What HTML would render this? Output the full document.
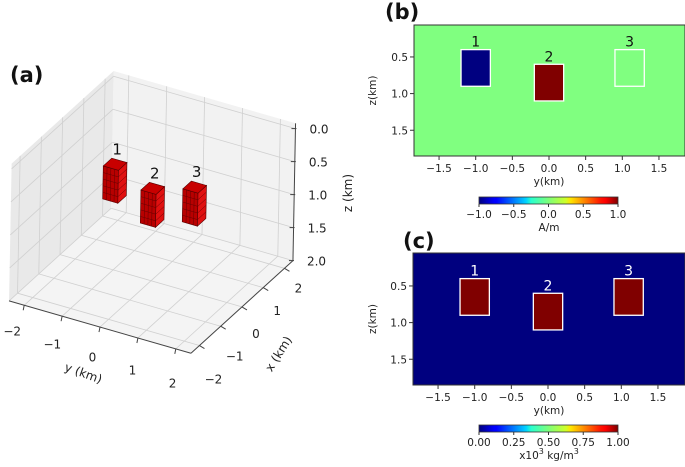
<!DOCTYPE html>
<html><head><meta charset="utf-8">
<style>
html,body{margin:0;padding:0;background:#fff;}
svg{display:block;font-family:"DejaVu Sans","Liberation Sans",sans-serif;}
</style></head>
<body>
<svg id="fig" width="685" height="467" viewBox="0 0 685 467">
<defs>
<linearGradient id="jet" x1="0" x2="1" y1="0" y2="0">
<stop offset="0" stop-color="#00007f"/><stop offset="0.11" stop-color="#0000ff"/>
<stop offset="0.125" stop-color="#0000ff"/><stop offset="0.34" stop-color="#00d4ff"/>
<stop offset="0.375" stop-color="#29ffce"/><stop offset="0.5" stop-color="#7dff7a"/>
<stop offset="0.625" stop-color="#ceff29"/><stop offset="0.66" stop-color="#ffe500"/>
<stop offset="0.875" stop-color="#ff1400"/><stop offset="0.91" stop-color="#ff0000"/>
<stop offset="1" stop-color="#7f0000"/>
</linearGradient>
</defs>
<g id="p3d"></g>
<g id="pb"></g>
<g id="pc"></g>
</svg>
<script>
const NS="http://www.w3.org/2000/svg";
// ---- data ----
const bodyLabels=["1","2","3"];
const bodyYmin=[-1.2,-0.2,0.9];
const bodyYmax=[-0.8,0.2,1.3];
const bodyZtop=[0.4,0.6,0.4];
const bodyZbot=[0.9,1.1,0.9];
const magValues=[-1,1,0];
const densValues=[1,1,1];
const yTicks2d=[-1.5,-1.0,-0.5,0.0,0.5,1.0,1.5];
const zTicks2d=[0.5,1.0,1.5];
const magTicks=[-1.0,-0.5,0.0,0.5,1.0];
const densTicks=[0.00,0.25,0.50,0.75,1.00];
const yTicks3d=[-2,-1,0,1,2];
const xTicks3d=[-2,-1,0,1,2];
const zTicks3d=[0.0,0.5,1.0,1.5,2.0];

function el(tag,attrs,parent,txt){const e=document.createElementNS(NS,tag);for(const k in attrs)e.setAttribute(k,attrs[k]);if(txt!==undefined)e.textContent=txt;parent.appendChild(e);return e;}
function fmt(v,d){const s=v.toFixed(d);return v<0?"\u2212"+s.slice(1):s;}
function jet(t){
  function c(x){return Math.max(0,Math.min(1,x));}
  const r=c(1.5-Math.abs(4*t-3)),g=c(1.5-Math.abs(4*t-2)),b=c(1.5-Math.abs(4*t-1));
  return "rgb("+Math.round(r*255)+","+Math.round(g*255)+","+Math.round(b*255)+")";
}

// ---- 2D panels ----
function panel2d(g,cfg){
  const sx=v=>cfg.x0+v*73.3, sz=v=>cfg.z0+v*73.3;
  const L=cfg.left,R=685,T=cfg.top,B=cfg.bottom;
  const bg=el("rect",{x:L,y:T,width:R-L,height:B-T,fill:cfg.bg,stroke:"#333","stroke-width":1},g);
  
  
  for(let i=0;i<bodyLabels.length;i++){
    const t=(cfg.vals[i]-cfg.vmin)/(cfg.vmax-cfg.vmin);
    const r=el("rect",{x:sx(bodyYmin[i]),y:sz(bodyZtop[i]),width:sx(bodyYmax[i])-sx(bodyYmin[i]),height:sz(bodyZbot[i])-sz(bodyZtop[i]),fill:jet(t),stroke:"#fff","stroke-width":1.3},g);
    
    
    const lt=el("text",{x:(sx(bodyYmin[i])+sx(bodyYmax[i]))/2,y:sz(bodyZtop[i])-3,"text-anchor":"middle","font-size":14,fill:cfg.numColor},g,bodyLabels[i]);
    
    
  }
  yTicks2d.forEach(v=>{
    el("line",{x1:sx(v),x2:sx(v),y1:B,y2:B+4,stroke:"#333"},g);
    const t=el("text",{x:sx(v),y:B+16,"text-anchor":"middle","font-size":10.5,fill:"#222"},g,fmt(v,1));
    
    
  });
  zTicks2d.forEach(v=>{
    el("line",{x1:L,x2:L-4,y1:sz(v),y2:sz(v),stroke:"#333"},g);
    const t=el("text",{x:L-6,y:sz(v)+4,"text-anchor":"end","font-size":10.5,fill:"#222"},g,fmt(v,1));
    
    
  });
  const xl=el("text",{x:549,y:B+29,"text-anchor":"middle","font-size":10.5,fill:"#222"},g,"y(km)");
  
  
  const cy=(T+B)/2;
  const yl=el("text",{x:376,y:cy,"text-anchor":"middle","font-size":10.5,fill:"#222",transform:"rotate(-90 376 "+cy+")"},g,"z(km)");
  
  
  const pl=el("text",{x:cfg.lx,y:cfg.ly,"font-size":21,"font-weight":"bold",fill:"#111"},g,cfg.label);
  
  
  const cb=el("rect",{x:479,y:cfg.cbY,width:139,height:7,fill:"url(#jet)",stroke:"#333","stroke-width":0.8},g);
  
  
  cfg.cbTicks.forEach(v=>{
    const x=479+139*(v-cfg.vmin)/(cfg.vmax-cfg.vmin);
    el("line",{x1:x,x2:x,y1:cfg.cbY+7,y2:cfg.cbY+10,stroke:"#333"},g);
    const t=el("text",{x:x,y:cfg.cbY+21,"text-anchor":"middle","font-size":10.5,fill:"#222"},g,fmt(v,cfg.cbDec));
    
    
  });
  const ct=el("text",{x:549,y:cfg.cbY+34,"text-anchor":"middle","font-size":10.5,fill:"#222"},g);
  ct.innerHTML=cfg.cbTitle;
  
  
}
panel2d(document.getElementById("pb"),{x0:549,z0:20.3,left:414,top:25,bottom:156,bg:jet(0.5),vals:magValues,vmin:-1,vmax:1,numColor:"#111",cbY:197,cbTicks:magTicks,cbDec:1,cbTitle:"A/m",label:"(b)",lx:385,ly:19});
panel2d(document.getElementById("pc"),{x0:548,z0:249.3,left:413,top:253,bottom:385,bg:"#00007f",vals:densValues,vmin:0,vmax:1,numColor:"#fff",cbY:425,cbTicks:densTicks,cbDec:2,cbTitle:'x10<tspan font-size="8" dy="-5">3</tspan><tspan dy="5"> kg/m</tspan><tspan font-size="8" dy="-5">3</tspan>',label:"(c)",lx:403,ly:248});

// ---- 3D panel ----
const g3=document.getElementById("p3d");
const O=[153.5,148.75],Ey=[37.9,10.9],Ex=[21.25,-19.3],Ez=[-1.25,66];
function P(x,y,z){return [O[0]+x*Ex[0]+y*Ey[0]+z*Ez[0],O[1]+x*Ex[1]+y*Ey[1]+z*Ez[1]];}
function poly(pts,attrs,name){const p=el("polygon",Object.assign({points:pts.map(q=>q.join(",")).join(" ")},attrs),g3);return p;}
function ln(a,b,st,w){el("line",{x1:a[0],y1:a[1],x2:b[0],y2:b[1],stroke:st,"stroke-width":w||0.8},g3);}
const X=2.4,Y=2.4,Z0=-0.08,Z1=2;
poly([P(X,-Y,Z0),P(X,Y,Z0),P(X,Y,Z1),P(X,-Y,Z1)],{fill:"#f2f2f2"},"back-pane");
poly([P(-X,-Y,Z0),P(X,-Y,Z0),P(X,-Y,Z1),P(-X,-Y,Z1)],{fill:"#e9e9e9"},"left-pane");
poly([P(-X,-Y,Z1),P(X,-Y,Z1),P(X,Y,Z1),P(-X,Y,Z1)],{fill:"#f4f4f4"},"floor-pane");
const gc="#d0d0d0";
yTicks3d.forEach(v=>{ln(P(X,v,Z0),P(X,v,Z1),gc);ln(P(X,v,Z1),P(-X,v,Z1),gc);});
xTicks3d.forEach(v=>{ln(P(v,-Y,Z0),P(v,-Y,Z1),gc);ln(P(v,-Y,Z1),P(v,Y,Z1),gc);});
zTicks3d.forEach(v=>{ln(P(X,-Y,v),P(X,Y,v),gc);ln(P(X,-Y,v),P(-X,-Y,v),gc);});
ln(P(-X,-Y,Z1),P(-X,Y,Z1),"#444",1);
ln(P(-X,Y,Z1),P(X,Y,Z1),"#444",1);
ln(P(X,Y,Z0),P(X,Y,Z1),"#444",1);
yTicks3d.forEach(v=>{const a=P(-X,v,Z1);ln(a,[a[0]-1,a[1]+5],"#444",1);
  const t=el("text",{x:a[0]-12+(v+2)*2.2,y:a[1]+30+(v+2)*2.2,"text-anchor":"middle","font-size":12,fill:"#222"},g3,v<0?"\u2212"+(-v):""+v);
  });
xTicks3d.forEach(v=>{const a=P(v,Y,Z1);ln(a,[a[0]+5,a[1]+3],"#444",1);
  const t=el("text",{x:a[0]+14,y:a[1]+24+(2-v)*3.5,"text-anchor":"middle","font-size":12,fill:"#222"},g3,v<0?"\u2212"+(-v):""+v);
  });
zTicks3d.forEach(v=>{const a=P(X,Y,v);ln([a[0]-4,a[1]],[a[0]+1,a[1]],"#444",1);
  const t=el("text",{x:a[0]+14,y:a[1]+5,"font-size":12,fill:"#222"},g3,v.toFixed(1));
  });
let t;
t=el("text",{x:82,y:377,"text-anchor":"middle","font-size":12,fill:"#222",transform:"rotate(20 82 377)"},g3,"y (km)");

t=el("text",{x:282,y:356,"text-anchor":"middle","font-size":12,fill:"#222",transform:"rotate(-58 282 356)"},g3,"x (km)");

t=el("text",{x:352,y:193,"text-anchor":"middle","font-size":12,fill:"#222",transform:"rotate(-90 352 193)"},g3,"z (km)");

t=el("text",{x:10,y:82,"font-size":21,"font-weight":"bold",fill:"#111"},g3,"(a)");

const hw=0.2;
for(let i=0;i<bodyLabels.length;i++){
  const y0=bodyYmin[i],y1=bodyYmax[i],z0=bodyZtop[i],z1=bodyZbot[i];
  poly([P(-hw,y0,z0),P(-hw,y1,z0),P(-hw,y1,z1),P(-hw,y0,z1)],{fill:"#b80000",stroke:"#500","stroke-width":0.6},"box-"+bodyLabels[i]+"-front");
  poly([P(-hw,y1,z0),P(hw,y1,z0),P(hw,y1,z1),P(-hw,y1,z1)],{fill:"#e01010",stroke:"#500","stroke-width":0.6},"box-"+bodyLabels[i]+"-side");
  poly([P(-hw,y0,z0),P(hw,y0,z0),P(hw,y1,z0),P(-hw,y1,z0)],{fill:"#c80000",stroke:"#500","stroke-width":0.6},"box-"+bodyLabels[i]+"-top");
  for(let k=1;k<4;k++){const yy=y0+(y1-y0)*k/4;ln(P(-hw,yy,z0),P(-hw,yy,z1),"#600",0.5);}
  for(let k=1;k<5;k++){const zz=z0+(z1-z0)*k/5;ln(P(-hw,y0,zz),P(-hw,y1,zz),"#600",0.5);ln(P(-hw,y1,zz),P(hw,y1,zz),"#600",0.5);}
  const c=P(0,(y0+y1)/2,z0);
  t=el("text",{x:c[0]+2,y:c[1]-10,"text-anchor":"middle","font-size":15,fill:"#111"},g3,bodyLabels[i]);
  
}
</script>
</body></html>
